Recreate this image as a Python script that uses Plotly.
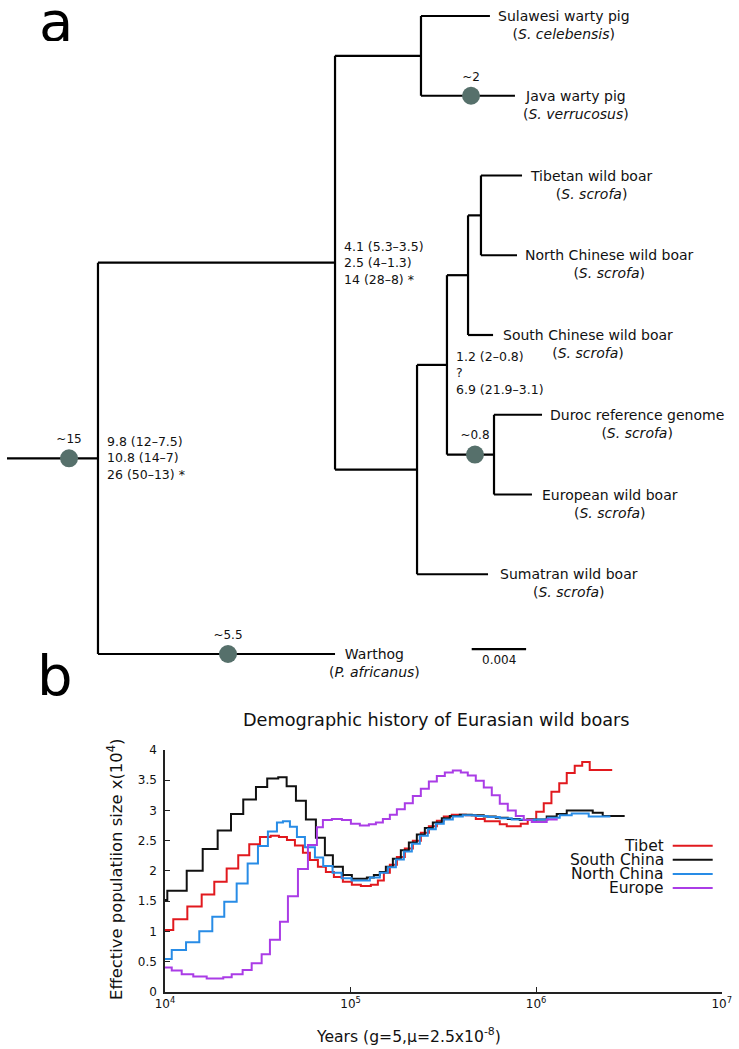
import plotly.graph_objects as go

FONT = "DejaVu Sans"

# ---------------- panel a : phylogeny ----------------
# branch depths in 1e-3 substitutions/site, measured from the start of the root stub
leaf_names = ["Sulawesi warty pig", "Java warty pig", "Tibetan wild boar",
              "North Chinese wild boar", "South Chinese wild boar",
              "Duroc reference genome", "European wild boar",
              "Sumatran wild boar", "Warthog"]
leaf_species = ["S. celebensis", "S. verrucosus", "S. scrofa", "S. scrofa", "S. scrofa",
                "S. scrofa", "S. scrofa", "S. scrofa", "P. africanus"]
leaf_depth = [35.51, 37.35, 37.87, 37.50, 35.74, 39.34, 38.60, 35.37, 24.12]

node_children = {
    "F": ["Tibetan wild boar", "North Chinese wild boar"],
    "E": ["F", "South Chinese wild boar"],
    "G": ["Duroc reference genome", "European wild boar"],
    "D": ["E", "G"],
    "C": ["D", "Sumatran wild boar"],
    "B": ["Sulawesi warty pig", "Java warty pig"],
    "A": ["B", "C"],
    "root": ["A", "Warthog"],
}
node_depth = {"F": 34.85, "E": 33.90, "G": 35.81, "D": 32.35, "C": 30.15,
              "B": 30.44, "A": 24.12, "root": 6.69}
root_stub_depth = 0.0

# divergence time estimates (Myr) written next to three nodes
node_dates = {
    "root": ["9.8 (12–7.5)", "10.8 (14–7)", "26 (50–13) *"],
    "A": ["4.1 (5.3–3.5)", "2.5 (4–1.3)", "14 (28–8) *"],
    "D": ["1.2 (2–0.8)", "?", "6.9 (21.9–3.1)"],
}

# calibration points: branch (named by its child node), depth, label
calib_branch = ["root", "Warthog", "Java warty pig", "G"]
calib_depth = [4.56, 16.25, 34.12, 34.41]
calib_label = ["~15", "~5.5", "~2", "~0.8"]

scale_bar = 4.0  # in 1e-3 subst/site -> 0.004

# ---------------- panel b : PSMC ----------------
tibet_years = [10000, 11080, 13190, 15760, 18430, 21490, 24810, 28440, 32480, 37090,
               41110, 45400, 50120, 55360, 60370, 66660, 73600, 81280, 90890, 101600,
               113600, 128600, 140300, 151100, 162800, 177600, 196000, 216500, 239100,
               264100, 291600, 317900, 351100, 417800, 472900, 528700, 636800, 694500,
               826100, 900800, 1001000, 1099000, 1209000, 1332000, 1462000, 1614000,
               1771000, 1944000, 2570000]
tibet_ne = [1.02, 1.20, 1.41, 1.61, 1.82, 2.04, 2.26, 2.44, 2.56, 2.58,
            2.56, 2.51, 2.42, 2.30, 2.18, 2.07, 1.98, 1.90, 1.82, 1.77,
            1.75, 1.77, 1.84, 1.97, 2.10, 2.23, 2.37, 2.50, 2.63,
            2.74, 2.83, 2.90, 2.93, 2.92, 2.86, 2.82, 2.77, 2.74,
            2.78, 2.85, 2.98, 3.12, 3.31, 3.45, 3.62, 3.74,
            3.80, 3.67, 3.67]

south_years = [10000, 10290, 13090, 15960, 19220, 22670, 26400, 30910, 35540, 40750,
               45230, 50760, 57440, 65030, 72700, 80280, 90890, 101600, 122400, 133500,
               143800, 154900, 169000, 186600, 206100, 227500, 251300, 277500, 310200,
               342500, 387800, 450000, 522200, 605900, 703200, 815900, 889700, 1140000,
               1291000, 1462000, 2018000, 2284000, 3000000]
south_ne = [1.52, 1.67, 2.00, 2.36, 2.67, 2.94, 3.18, 3.39, 3.53, 3.55,
            3.40, 3.16, 2.85, 2.55, 2.26, 2.07, 1.93, 1.87, 1.89, 1.93,
            1.98, 2.07, 2.20, 2.34, 2.47, 2.60, 2.71, 2.80, 2.87,
            2.91, 2.93, 2.92, 2.90, 2.88, 2.86, 2.84, 2.85, 2.90,
            2.94, 3.00, 2.96, 2.91, 2.91]

north_years = [10000, 10870, 12980, 15300, 17980, 20860, 24330, 27880, 31680, 35850,
               40100, 43200, 47110, 51390, 56750, 64230, 71180, 79980, 89440, 101200,
               127000, 143800, 158800, 175400, 193700, 213800, 236100, 260700, 287900,
               317900, 355600, 402500, 472900, 548800, 636800, 738900, 857700, 982800,
               1155000, 1340000, 1555000, 1920000, 2513000]
north_ne = [0.54, 0.69, 0.82, 1.00, 1.24, 1.49, 1.79, 2.12, 2.41, 2.65,
            2.80, 2.82, 2.73, 2.56, 2.39, 2.22, 2.08, 1.97, 1.88, 1.84,
            1.89, 1.97, 2.06, 2.19, 2.32, 2.45, 2.58, 2.69, 2.78,
            2.85, 2.90, 2.92, 2.91, 2.89, 2.87, 2.85, 2.84, 2.85,
            2.88, 2.92, 2.95, 2.90, 2.90]

europe_years = [10000, 10870, 12300, 14200, 16770, 20600, 22870, 26200, 29310, 33170,
                36760, 41630, 45960, 52040, 58910, 65860, 70930, 79300, 89800, 100400,
                112200, 125500, 136900, 149300, 162800, 177600, 196000, 216500, 239100,
                264100, 291600, 322000, 355600, 392700, 428200, 472900, 522200, 576700,
                636800, 703300, 776700, 857700, 947000, 1140000, 1307000]
europe_ne = [0.40, 0.35, 0.29, 0.25, 0.22, 0.24, 0.29, 0.36, 0.47, 0.62,
             0.86, 1.16, 1.58, 2.03, 2.43, 2.72, 2.84, 2.86, 2.84, 2.78,
             2.75, 2.77, 2.80, 2.86, 2.93, 3.02, 3.12, 3.24, 3.36,
             3.48, 3.57, 3.63, 3.66, 3.63, 3.58, 3.49, 3.38, 3.25,
             3.11, 3.00, 2.91, 2.84, 2.81, 2.85, 2.85]

pop_names = ["Tibet", "South China", "North China", "Europe"]
pop_colors = ["#e1191e", "#111111", "#288ce6", "#aa3ce6"]
x_ticks = [1e4, 1e5, 1e6, 1e7]
x_ticktext = ["10<sup>4</sup>", "10<sup>5</sup>", "10<sup>6</sup>", "10<sup>7</sup>"]

# label nudges (pixels)
LEAF_DX = {"Warthog": -14, "South Chinese wild boar": 2, "European wild boar": 2,
           "Sumatran wild boar": 4}
NODE_DY = {"D": -8.5}

fig = go.Figure()

# ---- tree layout
depth = dict(zip(leaf_names, leaf_depth))
depth.update(node_depth)
row = {n: i for i, n in enumerate(leaf_names)}


def place(n):
    if n not in row:
        kids = node_children[n]
        row[n] = sum(place(k) for k in kids) / len(kids)
    return row[n]


place("root")

xs = [root_stub_depth, depth["root"], None]
ys = [row["root"], row["root"], None]
for n, kids in node_children.items():
    ky = [row[k] for k in kids]
    xs += [depth[n], depth[n], None]
    ys += [min(ky), max(ky), None]
    for k in kids:
        xs += [depth[n], depth[k], None]
        ys += [row[k], row[k], None]

fig.add_trace(go.Scatter(x=xs, y=ys, xaxis="x2", yaxis="y2", mode="lines",
                         line=dict(color="black", width=2.2), hoverinfo="skip"))

fig.add_trace(go.Scatter(x=calib_depth, y=[row[b] for b in calib_branch],
                         xaxis="x2", yaxis="y2", mode="markers+text",
                         marker=dict(size=18, color="#56706b"),
                         text=calib_label, textposition="top center",
                         textfont=dict(family=FONT, size=12, color="#111")))

# scale bar, placed under the European clade
sb_x0, sb_row = 34.17, 7.94
fig.add_trace(go.Scatter(x=[sb_x0, sb_x0 + scale_bar], y=[sb_row, sb_row],
                         xaxis="x2", yaxis="y2", mode="lines",
                         line=dict(color="black", width=2.2), hoverinfo="skip"))
fig.add_annotation(x=sb_x0 + scale_bar / 2, y=sb_row, xref="x2", yref="y2",
                   text=f"{scale_bar / 1000:g}", showarrow=False, xanchor="center",
                   yanchor="top", yshift=-2, font=dict(family=FONT, size=12, color="#111"))

for n, sp in zip(leaf_names, leaf_species):
    fig.add_annotation(x=depth[n], y=row[n], xref="x2", yref="y2",
                       text=f"{n}<br>(<i>{sp}</i>)", showarrow=False,
                       xanchor="left", yanchor="top", align="center",
                       xshift=6 + LEAF_DX.get(n, 0), yshift=10,
                       font=dict(family=FONT, size=14, color="#111"))

for n, lines in node_dates.items():
    fig.add_annotation(x=depth[n], y=row[n], xref="x2", yref="y2",
                       text="<br>".join(lines), showarrow=False,
                       xanchor="left", yanchor="middle", align="left",
                       xshift=7, yshift=NODE_DY.get(n, 0),
                       font=dict(family=FONT, size=12.5, color="#111"))

# ---- PSMC curves
series = [(tibet_years, tibet_ne), (south_years, south_ne),
          (north_years, north_ne), (europe_years, europe_ne)]
for (yr, ne), name, col in zip(series, pop_names, pop_colors):
    fig.add_trace(go.Scatter(x=yr, y=ne, name=name, mode="lines", line_shape="hv",
                             line=dict(color=col, width=2)))

# manual legend: text on the left, sample line on the right
for i, (name, col) in enumerate(zip(pop_names, pop_colors)):
    yl = 0.1938 - i * 0.01343
    fig.add_annotation(x=0.9008, y=yl, xref="paper", yref="paper", text=name,
                       showarrow=False, xanchor="right", yanchor="middle", height=14,
                       font=dict(family=FONT, size=15.5, color="#111"))
    fig.add_shape(type="line", xref="paper", yref="paper", x0=0.9103, x1=0.9644,
                  y0=yl, y1=yl, line=dict(color=col, width=2))

fig.add_annotation(x=0.5907, y=0.3136, xref="paper", yref="paper",
                   xanchor="center", yanchor="middle",
                   text="Demographic history of Eurasian wild boars", showarrow=False,
                   font=dict(family=FONT, size=17.7, color="#111"))
fig.add_annotation(x=0.5521, y=0.0124, xref="paper", yref="paper",
                   xanchor="center", yanchor="middle",
                   text="Years (g=5,μ=2.5x10<sup>-8</sup>)", showarrow=False,
                   font=dict(family=FONT, size=15.6, color="#111"))
fig.add_annotation(x=0.1556, y=0.1716, xref="paper", yref="paper", textangle=-90,
                   xanchor="center", yanchor="middle",
                   text="Effective populatiion size x(10<sup>4</sup>)", showarrow=False,
                   font=dict(family=FONT, size=16.4, color="#111"))

fig.add_annotation(x=0.0758, y=0.9800, xref="paper", yref="paper", text="a",
                   xanchor="center", yanchor="middle", height=40, valign="middle",
                   showarrow=False, font=dict(family=FONT, size=56, color="black"))
fig.add_annotation(x=0.0745, y=0.3565, xref="paper", yref="paper", text="b",
                   xanchor="center", yanchor="middle", height=48, valign="middle",
                   showarrow=False, font=dict(family=FONT, size=56, color="black"))

fig.update_layout(
    width=739, height=1049, margin=dict(l=0, r=0, t=0, b=0),
    paper_bgcolor="white", plot_bgcolor="rgba(0,0,0,0)", showlegend=False,
    font=dict(family=FONT, color="#111"),
    xaxis=dict(type="log", domain=[0.2233, 0.9766], range=[4, 7], anchor="y",
               tickvals=x_ticks, ticktext=x_ticktext, ticks="inside", ticklen=5,
               tickcolor="#222", showline=True, linecolor="#222", linewidth=1.5,
               showgrid=False, zeroline=False, automargin=False,
               tickfont=dict(family=FONT, size=12, color="#111")),
    yaxis=dict(domain=[0.0546, 0.2850], range=[0, 4], dtick=0.5, anchor="x",
               ticks="inside", ticklen=5, tickcolor="#222", showline=True,
               linecolor="#222", linewidth=1.5, showgrid=False, zeroline=False,
               automargin=False, ticklabelstandoff=4,
               tickfont=dict(family=FONT, size=12, color="#111")),
    xaxis2=dict(domain=[0, 1], range=[-0.5147, 53.824], visible=False, anchor="y2"),
    yaxis2=dict(domain=[0, 1], range=[12.953, -0.2006], visible=False, anchor="x2"),
)

fig.write_html("out.html", config={"displayModeBar": False},
               post_script="document.body.style.margin='0';")
